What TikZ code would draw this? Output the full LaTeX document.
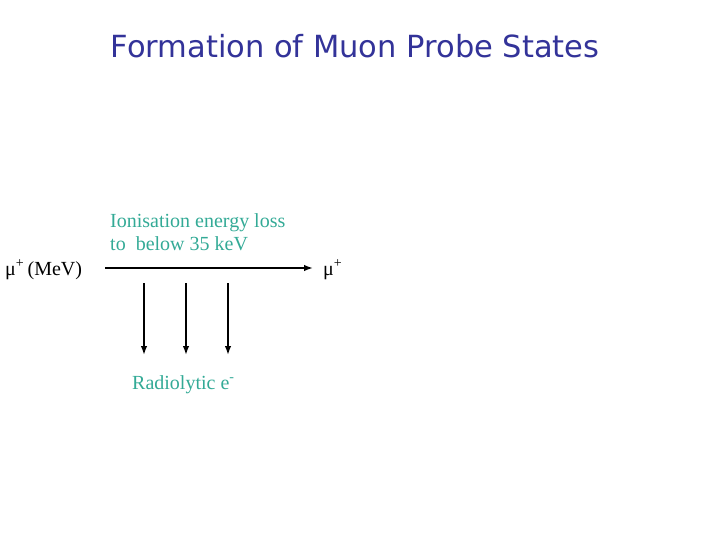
\documentclass[tikz,border=0pt]{standalone}
\usepackage{fontspec}
\setmainfont{Liberation Serif}
\newfontfamily\titlefont{DejaVu Sans}
\usetikzlibrary{positioning}
\usetikzlibrary{arrows.meta}
\definecolor{titleblue}{RGB}{51,51,153}
\definecolor{labelteal}{RGB}{51,170,150}

\begin{document}
\begin{tikzpicture}[x=1pt,y=-1pt, >={Latex[length=9pt,width=6.5pt]}, font=\fontsize{20}{24}\selectfont]
      \useasboundingbox (0,0) rectangle (720,540);
      \node[titleblue, font=\titlefont\fontsize{30.5}{36}\selectfont] (title) at (355,46) {Formation of Muon Probe States};

      \node[anchor=base west, inner sep=0pt] (muin) at (5,275) {μ\textsuperscript{+}\,(MeV)};
      \node[anchor=base west, inner sep=0pt] (muout) at (323,275) {μ\textsuperscript{+}};
      \coordinate (start) at (105,268);
      \coordinate (end) at (313,268);
      \draw[->, line width=1.6pt] (start) -- (end);

      \node[labelteal, anchor=base west, inner sep=0pt, align=left] (loss) at (110,251) {Ionisation energy loss\\to~ below 35 keV};

      \foreach \x in {144,186,228} \draw[->, line width=1.6pt] (\x,283) -- (\x,355);

      \node[labelteal, anchor=base west, inner sep=0pt] (radio) at (132,389) {Radiolytic e\textsuperscript{-}};
    \end{tikzpicture}
\end{document}
